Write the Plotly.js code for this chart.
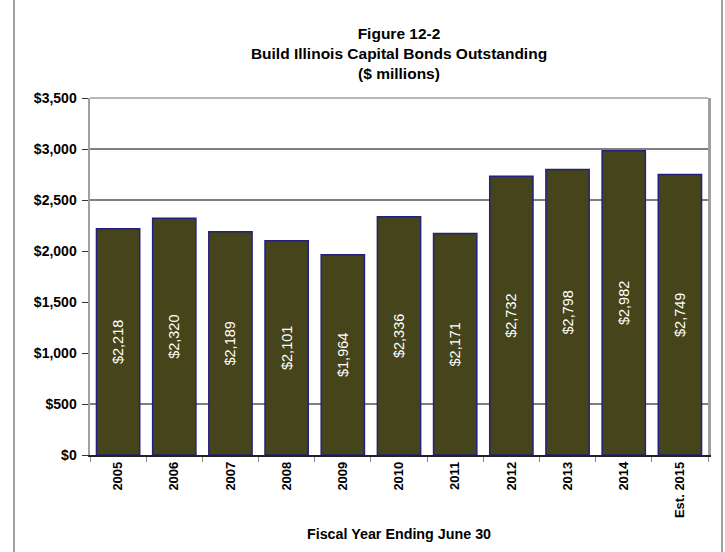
<!DOCTYPE html>
<html>
<head>
<meta charset="utf-8">
<script src="https://cdn.plot.ly/plotly-3.0.1.min.js"></script>
<style>
  html, body { margin: 0; padding: 0; background: #fff; }
  #chart { width: 725px; height: 552px; }
  #frame { position: absolute; left: 13px; top: 0; width: 706px; height: 552px;
           border-left: 2px solid #a0a0a0; border-right: 2px solid #a0a0a0; pointer-events: none; }
</style>
</head>
<body>
<div id="chart"></div>
<div id="frame"></div>
<script>
const categories = ["2005","2006","2007","2008","2009","2010","2011","2012","2013","2014","Est. 2015"];
const bondsOutstanding = [2218, 2320, 2189, 2101, 1964, 2336, 2171, 2732, 2798, 2982, 2749];
const yTickValues = [0, 500, 1000, 1500, 2000, 2500, 3000, 3500];
const yTickLabels = ["$0", "$500", "$1,000", "$1,500", "$2,000", "$2,500", "$3,000", "$3,500"];
const gridValues = [500, 2500, 3000];

const fmt = v => "$" + v.toLocaleString("en-US");
const fontFam = "Liberation Sans, Arial, sans-serif";

const trace = {
  type: "bar",
  x: categories,
  y: bondsOutstanding,
  text: bondsOutstanding.map(fmt),
  textposition: "inside",
  insidetextanchor: "middle",
  textangle: -90,
  textfont: { family: fontFam, size: 14.5, color: "#ffffff" },
  marker: { color: "#46441a", line: { color: "#23217c", width: 1.5 } },
  hoverinfo: "x+y"
};

const shapes = gridValues.map(v => ({
  type: "line", xref: "paper", yref: "y", x0: 0, x1: 1, y0: v, y1: v,
  layer: "below", line: { color: "#000000", width: 1.2 }
}));
shapes.push({
  type: "line", xref: "paper", yref: "paper", x0: 0, x1: 1, y0: 1, y1: 1,
  layer: "above", line: { color: "#a0a0a0", width: 1.5 }
});

const layout = {
  width: 725, height: 552,
  margin: { l: 90, r: 17, t: 98, b: 97 },
  paper_bgcolor: "#ffffff", plot_bgcolor: "#ffffff",
  font: { family: fontFam, color: "#000000" },
  title: {
    text: "<b>Figure 12-2<br>Build Illinois Capital Bonds Outstanding<br>($ millions)</b>",
    font: { family: fontFam, size: 15.5, color: "#000000" },
    x: 0.5, xref: "paper", xanchor: "center",
    y: 0.929, yref: "container", yanchor: "top"
  },
  bargap: 0.23,
  showlegend: false,
  xaxis: {
    type: "category",
    tickangle: -90,
    tickfont: { family: fontFam, size: 13, color: "#000000", weight: "bold" },
    ticks: "outside", tickson: "boundaries", ticklen: 5, tickcolor: "#888888",
    showline: true, linecolor: "#222222", linewidth: 1.5,
    showgrid: false,
    title: { text: "<b>Fiscal Year Ending June 30</b>", font: { family: fontFam, size: 14.3, color: "#000000" }, standoff: 12 }
  },
  yaxis: {
    range: [0, 3500],
    tickvals: yTickValues, ticktext: yTickLabels,
    tickfont: { family: fontFam, size: 14, color: "#000000", weight: "bold" },
    ticks: "outside", ticklen: 6, tickcolor: "#333333",
    ticklabelstandoff: 2,
    showline: true, linecolor: "#a0a0a0", linewidth: 2.5, mirror: true,
    showgrid: false, zeroline: false
  },
  shapes: shapes
};

Plotly.newPlot("chart", [trace], layout, { displayModeBar: false, staticPlot: true });
</script>
</body>
</html>
